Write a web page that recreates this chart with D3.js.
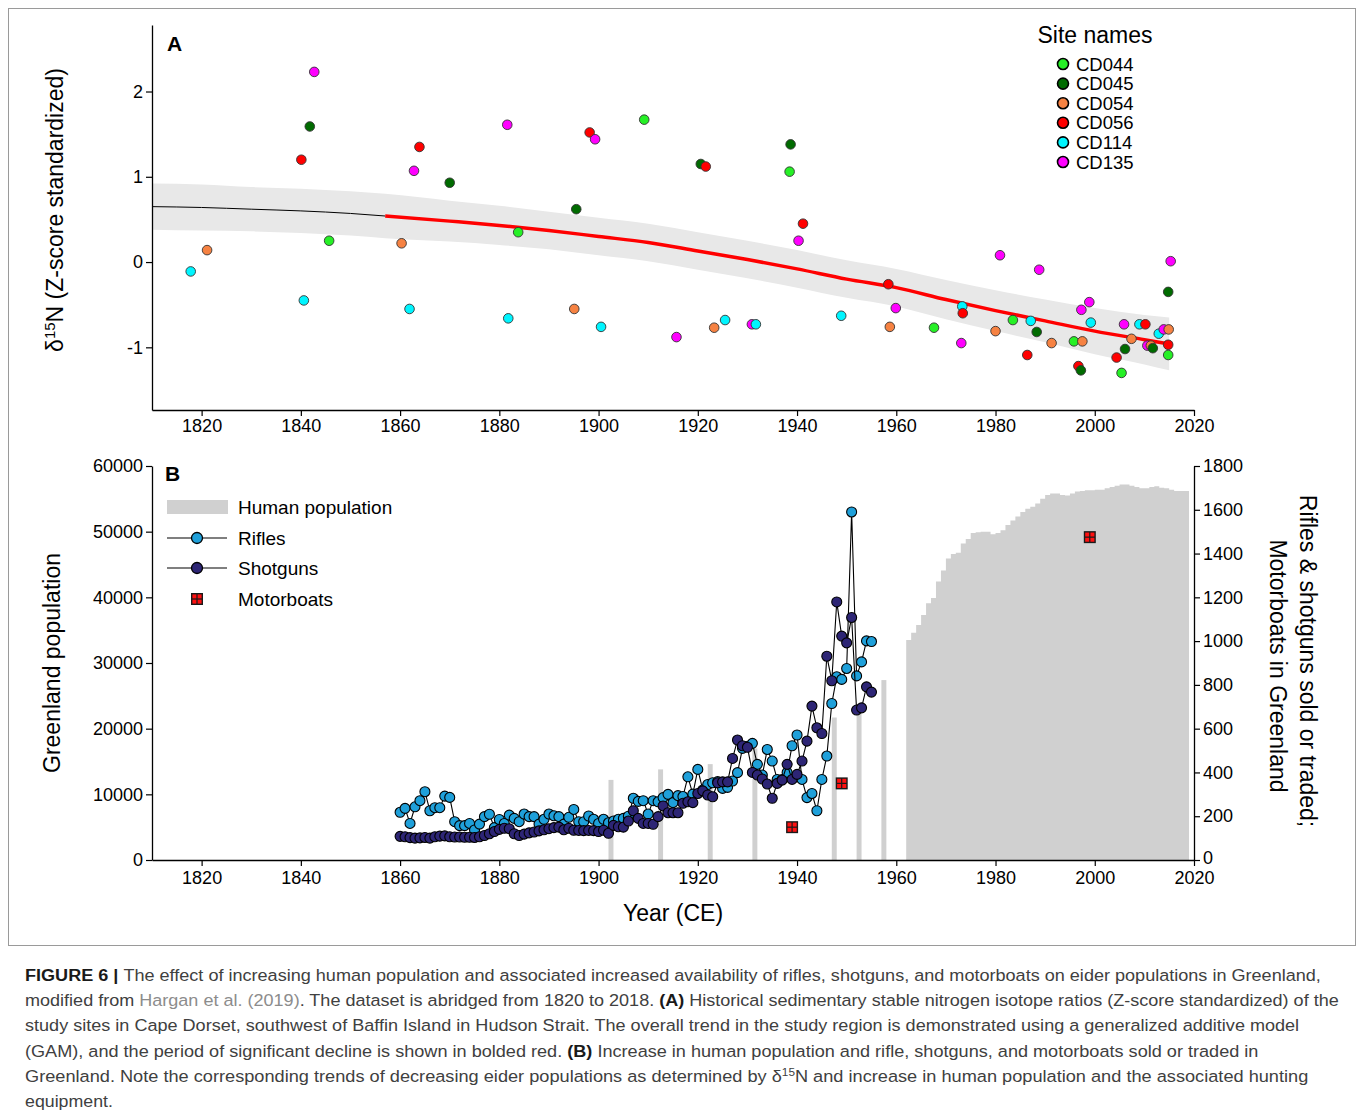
<!DOCTYPE html>
<html>
<head>
<meta charset="utf-8">
<script src="https://cdn.jsdelivr.net/npm/d3@7"></script>
<style>
  body { margin: 0; background: #fff; }
  svg text { font-family: "Liberation Sans", Arial, Helvetica, sans-serif; }
</style>
</head>
<body>
<svg id="fig" width="1360" height="1116"></svg>
<script>
// ---------- panel A: d15N z-scores per site, [year, value] ----------
const siteNames = ["CD044", "CD045", "CD054", "CD056", "CD114", "CD135"];

const cd044 = [[1845.7, 0.25], [1883.8, 0.35], [1909.2, 1.67], [1938.5, 1.06], [1967.6, -0.77],
  [1983.5, -0.68], [1995.8, -0.93], [2005.4, -1.30], [2014.8, -1.09]];
const cd045 = [[1841.8, 1.59], [1870.0, 0.93], [1895.5, 0.62], [1920.6, 1.15], [1938.7, 1.38],
  [1988.3, -0.82], [1997.2, -1.27], [2006.1, -1.02], [2011.7, -1.01], [2014.8, -0.35]];
const cd054 = [[1821.1, 0.14], [1860.3, 0.22], [1895.1, -0.55], [1923.3, -0.77], [1958.7, -0.76],
  [1980.0, -0.81], [1991.3, -0.95], [1997.5, -0.93], [2007.4, -0.90], [2011.3, -0.98], [2014.9, -0.79]];
const cd056 = [[1840.1, 1.20], [1863.9, 1.35], [1898.2, 1.52], [1921.6, 1.12], [1941.2, 0.45],
  [1958.4, -0.26], [1973.4, -0.60], [1986.4, -1.09], [1996.7, -1.22], [2004.4, -1.12],
  [2010.2, -0.73], [2014.8, -0.97]];
const cd114 = [[1817.8, -0.11], [1840.6, -0.45], [1861.9, -0.55], [1881.8, -0.66], [1900.5, -0.76],
  [1925.5, -0.68], [1931.7, -0.73], [1948.9, -0.63], [1973.3, -0.52], [1987.1, -0.69],
  [1999.2, -0.71], [2009.0, -0.73], [2012.9, -0.84]];
const cd135 = [[1842.7, 2.23], [1862.8, 1.07], [1881.6, 1.61], [1899.3, 1.44], [1915.7, -0.88],
  [1930.9, -0.73], [1940.3, 0.25], [1959.9, -0.54], [1973.1, -0.95], [1980.9, 0.08],
  [1988.8, -0.09], [1997.3, -0.56], [1998.9, -0.47], [2005.9, -0.73], [2010.6, -0.98],
  [2013.9, -0.79], [2015.3, 0.01]];

// GAM fit and its confidence band
const gamYears = [1810, 1820, 1830, 1840, 1850, 1857, 1870, 1880, 1890, 1900, 1910, 1920, 1930,
  1940, 1950, 1960, 1970, 1980, 1990, 2000, 2010, 2015];
const gamFit = [0.65, 0.64, 0.62, 0.60, 0.57, 0.54, 0.48, 0.43, 0.37, 0.30, 0.23, 0.13, 0.03,
  -0.08, -0.20, -0.30, -0.44, -0.57, -0.69, -0.81, -0.91, -0.96];
const gamHi = [0.92, 0.91, 0.88, 0.86, 0.83, 0.80, 0.72, 0.66, 0.59, 0.52, 0.45, 0.35, 0.25,
  0.14, 0.02, -0.08, -0.21, -0.33, -0.44, -0.54, -0.62, -0.65];
const gamLo = [0.38, 0.37, 0.36, 0.34, 0.31, 0.28, 0.24, 0.20, 0.15, 0.08, 0.01, -0.09, -0.19,
  -0.30, -0.42, -0.52, -0.67, -0.81, -0.94, -1.08, -1.20, -1.27];
const declineStart = 1857;

// ---------- panel B ----------
const censusYears = [1902, 1912, 1922, 1931, 1947, 1952, 1957];
const censusPop = [12200, 13800, 14600, 17000, 21700, 22300, 27400];
const popYears = d3.range(1962, 2019);
const popValues = [33500, 34600, 35800, 37300, 39100, 39900, 42400, 44100, 45900, 46600,
  46800, 48200, 48900, 49800, 49900, 50000, 50000, 49600, 49800, 50200,
  51000, 51700, 52300, 53000, 53500, 53800, 54300, 55000, 55600, 55800,
  55800, 55600, 55500, 55800, 56100, 56200, 56300, 56300, 56400, 56400,
  56600, 56800, 57000, 57200, 57200, 57000, 56800, 56600, 56600, 56800,
  56900, 56700, 56600, 56400, 56200, 56200, 56200];

const gunYears = d3.range(1860, 1956);
const rifles = [218, 236, 167, 243, 271, 312, 225, 239, 239, 292,
  286, 175, 157, 157, 167, 137, 164, 198, 209, 148,
  185, 167, 205, 190, 175, 210, 198, 198, 164, 186,
  210, 202, 198, 164, 195, 231, 175, 175, 201, 186,
  167, 186, 170, 178, 186, 190, 200, 282, 268, 271,
  210, 271, 266, 285, 300, 262, 294, 290, 380, 301,
  414, 320, 345, 353, 358, 327, 332, 361, 399, 510,
  520, 533, 437, 388, 505, 452, 368, 368, 400, 522,
  571, 368, 285, 304, 225, 368, 475, 715, 837, 825,
  875, 1590, 841, 905, 1001, 998];
const shotguns = [108, 106, 102, 100, 101, 103, 100, 106, 109, 110,
  106, 105, 105, 104, 104, 103, 106, 112, 120, 130,
  140, 145, 143, 120, 112, 118, 124, 128, 133, 138,
  143, 148, 150, 138, 145, 136, 135, 134, 135, 134,
  130, 136, 122, 158, 152, 150, 178, 225, 190, 167,
  167, 163, 198, 247, 216, 216, 216, 259, 266, 262,
  304, 316, 297, 289, 353, 357, 357, 464, 548, 522,
  515, 400, 388, 370, 347, 282, 350, 365, 437, 368,
  391, 452, 543, 703, 604, 578, 931, 819, 1179, 1023,
  992, 1108, 685, 695, 791, 767];

const motorYears = [1939, 1949, 1999];
const motorboats = [150, 350, 1475];

// ---------- setup ----------
const svg = d3.select("#fig");
const FONT = '"Liberation Sans", Arial, Helvetica, sans-serif';

var siteColor = d3.scaleOrdinal()
  .domain(siteNames)
  .range(["#26f026", "#006b00", "#f68242", "#ff0000", "#00f5ff", "#ff00ff"]);
var rifleCol = "#1fa0da";
var shotCol = "#2d2575";
var popCol = "#d0d0d0";

const x = d3.scaleLinear().domain([1810, 2020]).range([152, 1194]);
const yA = d3.scaleLinear().domain([-1.735, 2.78]).range([410, 25]);
const yPop = d3.scaleLinear().domain([0, 60000]).range([860, 466]);
const yGun = d3.scaleLinear().domain([0, 1800]).range([860, 466]);

// outer frame
svg.append("rect")
  .attr("x", 8.5).attr("y", 8.5).attr("width", 1347).attr("height", 937)
  .attr("fill", "none").attr("stroke", "#9a9a9a").attr("stroke-width", 1);

function styleAxis(g) {
  g.attr("font-family", FONT).attr("font-size", 18);
  g.selectAll("path.domain").attr("stroke", "#000").attr("stroke-width", 1.3);
  g.selectAll(".tick line").attr("stroke", "#000").attr("stroke-width", 1.2);
  g.selectAll(".tick text").attr("fill", "#000");
}

// ================= PANEL A =================
const gam = gamYears.map((yr, i) => ({year: yr, fit: gamFit[i], hi: gamHi[i], lo: gamLo[i]}));

svg.append("path")
  .datum(gam)
  .attr("fill", "#e8e8e8")
  .attr("d", d3.area().curve(d3.curveMonotoneX)
    .x(d => x(d.year)).y0(d => yA(d.lo)).y1(d => yA(d.hi)));

const fitLine = d3.line().curve(d3.curveMonotoneX).x(d => x(d.year)).y(d => yA(d.fit));
svg.append("path")
  .datum(gam.filter(d => d.year <= declineStart))
  .attr("fill", "none").attr("stroke", "#000").attr("stroke-width", 1)
  .attr("d", fitLine);
svg.append("path")
  .datum(gam.filter(d => d.year >= declineStart))
  .attr("fill", "none").attr("stroke", "#ff0000").attr("stroke-width", 3.5)
  .attr("d", fitLine);

// points
const sites = [cd044, cd045, cd054, cd056, cd114, cd135];
const pts = [];
sites.forEach((arr, i) => arr.forEach(p => pts.push({site: siteNames[i], year: p[0], val: p[1]})));
pts.sort((a, b) => a.year - b.year);

svg.append("g")
  .selectAll("circle")
  .data(pts)
  .join("circle")
  .attr("cx", d => x(d.year))
  .attr("cy", d => yA(d.val))
  .attr("r", 4.8)
  .attr("fill", d => siteColor(d.site))
  .attr("stroke", "#333")
  .attr("stroke-width", 0.9);

// axes A
svg.append("g")
  .attr("transform", "translate(0,410)")
  .call(d3.axisBottom(x).tickValues(d3.range(1820, 2021, 20)).tickFormat(d3.format("d"))
    .tickSize(6).tickPadding(3).tickSizeOuter(0))
  .call(styleAxis);
svg.append("g")
  .attr("transform", "translate(152,0)")
  .call(d3.axisLeft(yA).tickValues([-1, 0, 1, 2]).tickFormat(d => String(d))
    .tickSize(6).tickPadding(3).tickSizeOuter(0))
  .call(styleAxis);

// y label A
const yLabA = svg.append("text")
  .attr("transform", "translate(63,210) rotate(-90)")
  .attr("text-anchor", "middle")
  .attr("font-size", 23)
  .attr("fill", "#000");
yLabA.append("tspan").text("δ");
yLabA.append("tspan").text("15").attr("font-size", 15).attr("baseline-shift", "super");
yLabA.append("tspan").text("N (Z-score standardized)");

svg.append("text").attr("x", 167).attr("y", 51).text("A")
  .attr("font-size", 21).attr("font-weight", "bold").attr("fill", "#000");

// legend A
svg.append("text").attr("x", 1095).attr("y", 43).attr("text-anchor", "middle")
  .attr("font-size", 23).attr("fill", "#000").text("Site names");
const legA = svg.append("g")
  .selectAll("g")
  .data(siteNames)
  .join("g")
  .attr("transform", (d, i) => `translate(1063,${64 + i * 19.6})`);
legA.append("circle").attr("r", 5.5)
  .attr("fill", d => siteColor(d)).attr("stroke", "#000").attr("stroke-width", 1.6);
legA.append("text").attr("x", 13).attr("y", 6.5)
  .attr("font-size", 18.5).attr("fill", "#000").text(d => d);

// ================= PANEL B =================
const barsG = svg.append("g").attr("fill", popCol);
barsG.selectAll("rect.census")
  .data(censusYears.map((yr, i) => ({year: yr, pop: censusPop[i]})))
  .join("rect")
  .attr("class", "census")
  .attr("x", d => x(d.year))
  .attr("width", x(1811) - x(1810))
  .attr("y", d => yPop(d.pop))
  .attr("height", d => yPop(0) - yPop(d.pop));

// yearly population as one stepped block (no seams between bars)
const popData = popYears.map((yr, i) => ({year: yr, pop: popValues[i]}));
popData.push({year: popYears[popYears.length - 1] + 1, pop: popValues[popValues.length - 1]});
barsG.append("path")
  .datum(popData)
  .attr("d", d3.area().curve(d3.curveStepAfter)
    .x(d => x(d.year)).y0(yPop(0)).y1(d => yPop(d.pop)));

function drawSeries(vals, col) {
  const data = gunYears.map((yr, i) => ({year: yr, v: vals[i]}));
  svg.append("path")
    .datum(data)
    .attr("fill", "none").attr("stroke", "#000").attr("stroke-width", 1.1)
    .attr("d", d3.line().x(d => x(d.year)).y(d => yGun(d.v)));
  svg.append("g")
    .selectAll("circle")
    .data(data)
    .join("circle")
    .attr("cx", d => x(d.year))
    .attr("cy", d => yGun(d.v))
    .attr("r", 5)
    .attr("fill", col)
    .attr("stroke", "#000")
    .attr("stroke-width", 1.1);
}
drawSeries(rifles, rifleCol);
drawSeries(shotguns, shotCol);

function motorMark(g) {
  g.append("rect").attr("x", -6).attr("y", -6).attr("width", 12).attr("height", 12)
    .attr("fill", "#1a1a1a");
  [[-4.6, -4.6], [0.6, -4.6], [-4.6, 0.6], [0.6, 0.6]].forEach(o => {
    g.append("rect").attr("x", o[0]).attr("y", o[1]).attr("width", 4).attr("height", 4)
      .attr("fill", "#ff1010");
  });
}
motorYears.forEach((yr, i) => {
  svg.append("g")
    .attr("transform", `translate(${x(yr)},${yGun(motorboats[i])})`)
    .call(motorMark);
});

// axes B
svg.append("g")
  .attr("transform", "translate(0,860)")
  .call(d3.axisBottom(x).tickValues(d3.range(1820, 2021, 20)).tickFormat(d3.format("d"))
    .tickSize(6).tickPadding(5).tickSizeOuter(0))
  .call(styleAxis);
svg.append("g")
  .attr("transform", "translate(152,0)")
  .call(d3.axisLeft(yPop).tickValues(d3.range(0, 60001, 10000)).tickFormat(d3.format("d"))
    .tickSize(6).tickPadding(3).tickSizeOuter(0))
  .call(styleAxis);
const rightAx = svg.append("g")
  .attr("transform", "translate(1194,0)")
  .call(d3.axisRight(yGun).tickValues(d3.range(0, 1801, 200)).tickFormat(d3.format("d"))
    .tickSize(6).tickPadding(3).tickSizeOuter(0))
  .call(styleAxis);
// lift the lowest right label a touch so it clears "2020"
rightAx.selectAll(".tick text").filter(d => d === 0).attr("dy", "0.2em");

svg.append("text").attr("x", 165).attr("y", 481).text("B")
  .attr("font-size", 21).attr("font-weight", "bold").attr("fill", "#000");

svg.append("text")
  .attr("transform", "translate(60,663) rotate(-90)")
  .attr("text-anchor", "middle").attr("font-size", 23).attr("fill", "#000")
  .text("Greenland population");
svg.append("text")
  .attr("transform", "translate(1300,661) rotate(90)")
  .attr("text-anchor", "middle").attr("font-size", 23).attr("fill", "#000")
  .text("Rifles & shotguns sold or traded;");
svg.append("text")
  .attr("transform", "translate(1270,666) rotate(90)")
  .attr("text-anchor", "middle").attr("font-size", 23).attr("fill", "#000")
  .text("Motorboats in Greenland");
svg.append("text")
  .attr("x", 673).attr("y", 921).attr("text-anchor", "middle")
  .attr("font-size", 23).attr("fill", "#000").text("Year (CE)");

// legend B
const legB = svg.append("g").attr("font-size", 19).attr("fill", "#000");
legB.append("rect").attr("x", 167).attr("y", 500).attr("width", 61).attr("height", 14)
  .attr("fill", popCol);
legB.append("text").attr("x", 238).attr("y", 514).text("Human population");
[["Rifles", rifleCol, 538], ["Shotguns", shotCol, 568]].forEach(r => {
  legB.append("line").attr("x1", 167).attr("x2", 227).attr("y1", r[2]).attr("y2", r[2])
    .attr("stroke", "#000").attr("stroke-width", 1.2);
  legB.append("circle").attr("cx", 197).attr("cy", r[2]).attr("r", 5.5)
    .attr("fill", r[1]).attr("stroke", "#000").attr("stroke-width", 1.3);
  legB.append("text").attr("x", 238).attr("y", r[2] + 7).text(r[0]);
});
legB.append("g").attr("transform", "translate(197,599)").call(motorMark);
legB.append("text").attr("x", 238).attr("y", 606).text("Motorboats");

// ================= caption =================
const captionLines = [
  [["FIGURE 6 | ", "b"], ["The effect of increasing human population and associated increased availability of rifles, shotguns, and motorboats on eider populations in Greenland,", ""]],
  [["modified from ", ""], ["Hargan et al. (2019)", "link"], [". The dataset is abridged from 1820 to 2018. ", ""], ["(A)", "b"], [" Historical sedimentary stable nitrogen isotope ratios (Z-score standardized) of the", ""]],
  [["study sites in Cape Dorset, southwest of Baffin Island in Hudson Strait. The overall trend in the study region is demonstrated using a generalized additive model", ""]],
  [["(GAM), and the period of significant decline is shown in bolded red. ", ""], ["(B)", "b"], [" Increase in human population and rifle, shotguns, and motorboats sold or traded in", ""]],
  [["Greenland. Note the corresponding trends of decreasing eider populations as determined by δ", ""], ["15", "sup"], ["N and increase in human population and the associated hunting", ""]],
  [["equipment.", ""]]
];
const captionRight = [1322, 1340, 1300, 1260, 1309, 113];

const cap = svg.append("g").attr("font-size", 17).attr("fill", "#404040");
captionLines.forEach((segs, i) => {
  const t = cap.append("text").attr("x", 0).attr("y", 0);
  segs.forEach(s => {
    const ts = t.append("tspan").text(s[0]);
    if (s[1] === "b") ts.attr("font-weight", "bold").attr("fill", "#1a1a1a");
    if (s[1] === "link") ts.attr("fill", "#8c8c8c");
    if (s[1] === "sup") ts.attr("font-size", 11).attr("baseline-shift", "super");
  });
  const w = t.node().getComputedTextLength();
  t.attr("transform", `translate(25,${981 + i * 25.2}) scale(${(captionRight[i] - 25) / w},1)`);
});
</script>
</body>
</html>
